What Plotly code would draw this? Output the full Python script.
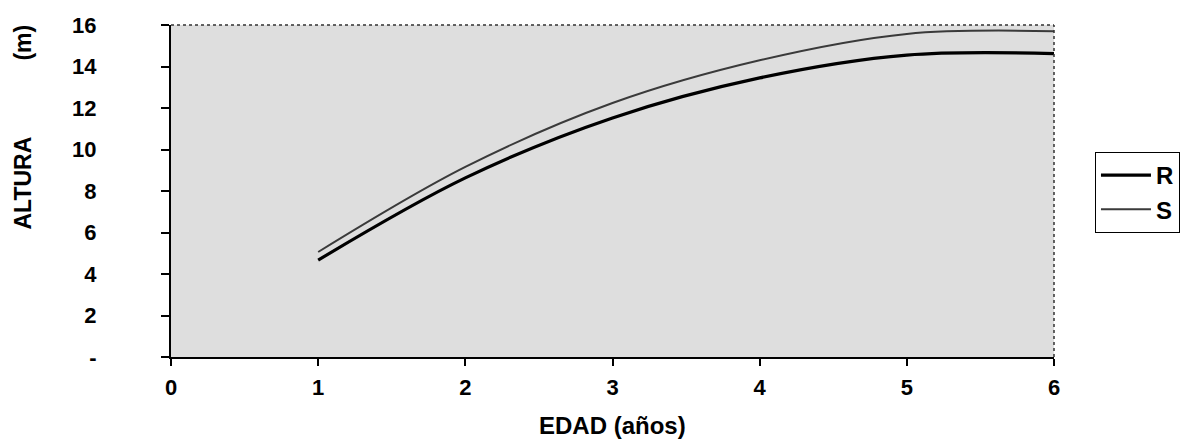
import plotly.graph_objects as go

edad = [1, 2, 3, 4, 5, 6]
altura_R = [4.67, 8.63, 11.52, 13.45, 14.55, 14.62]
altura_S = [5.06, 9.16, 12.24, 14.3, 15.57, 15.7]

x_ticks = [0, 1, 2, 3, 4, 5, 6]
y_ticks = [0, 2, 4, 6, 8, 10, 12, 14, 16]
y_ticktext = ["-", "2", "4", "6", "8", "10", "12", "14", "16"]

FONT = "Liberation Sans, Arial, sans-serif"

fig = go.Figure()
fig.add_trace(go.Scatter(x=edad, y=altura_R, name="R", mode="lines",
                         line=dict(color="black", width=3.2, shape="spline", smoothing=1)))
fig.add_trace(go.Scatter(x=edad, y=altura_S, name="S", mode="lines",
                         line=dict(color="#3a3a3a", width=2, shape="spline", smoothing=1)))

fig.update_layout(
    width=1183, height=441,
    margin=dict(l=171, r=129, t=25, b=84, autoexpand=False),
    paper_bgcolor="white",
    plot_bgcolor="#dedede",
    font=dict(family=FONT, color="black", size=22, weight="bold"),
    showlegend=True,
    legend=dict(x=1.0464, y=0.6175, xanchor="left", yanchor="top",
                bordercolor="black", borderwidth=1, bgcolor="white",
                font=dict(size=24, family=FONT, weight="bold"),
                itemwidth=50, tracegroupgap=0),
    xaxis=dict(range=[0, 6], tickmode="array", tickvals=x_ticks,
               showgrid=False, zeroline=False,
               showline=True, linecolor="black", linewidth=2,
               ticks="outside", ticklen=7, tickwidth=1.5, tickcolor="black",
               tickfont=dict(size=22, family=FONT, weight="bold"),
               ticklabelstandoff=3),
    yaxis=dict(range=[0, 16], tickmode="array", tickvals=y_ticks, ticktext=y_ticktext,
               showgrid=False, zeroline=False,
               showline=True, linecolor="black", linewidth=2,
               ticks="outside", ticklen=8, tickwidth=1.5, tickcolor="black",
               tickfont=dict(size=22, family=FONT, weight="bold"),
               ticklabelstandoff=60),
    shapes=[
        dict(type="line", xref="paper", yref="paper", x0=0, x1=1, y0=1, y1=1,
             line=dict(color="#333", width=1.5, dash="dot")),
        dict(type="line", xref="paper", yref="paper", x0=1, x1=1, y0=0, y1=1,
             line=dict(color="#333", width=1.5, dash="dot")),
    ],
    annotations=[
        dict(text="EDAD (años)", xref="paper", yref="paper", x=0.5, y=-0.205,
             xanchor="center", yanchor="middle", showarrow=False,
             font=dict(size=24, family=FONT, weight="bold")),
        dict(text="ALTURA", xref="paper", yref="paper", x=-0.1676, y=0.5226,
             xanchor="center", yanchor="middle", textangle=-90, showarrow=False,
             font=dict(size=23, family=FONT, weight="bold")),
        dict(text="(m)", xref="paper", yref="paper", x=-0.1676, y=0.947,
             xanchor="center", yanchor="middle", textangle=-90, showarrow=False,
             font=dict(size=23, family=FONT, weight="bold")),
    ],
)

fig.write_html("out.html")
